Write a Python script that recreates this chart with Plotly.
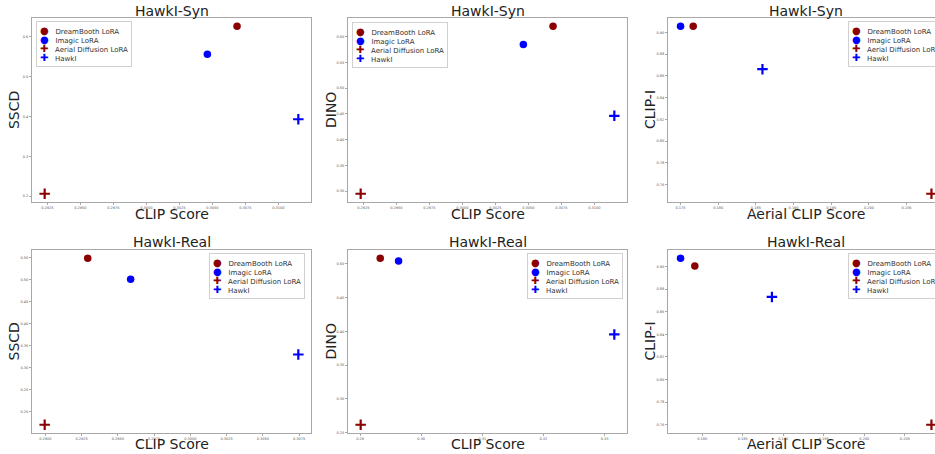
import plotly.graph_objects as go

W, H = 935, 454

methods = ["DreamBooth LoRA", "Imagic LoRA", "Aerial Diffusion LoRA", "HawkI"]
colors = ["#8b0000", "#0000ff", "#8b0000", "#0000ff"]
symbols = ["circle", "circle", "cross-thin", "cross-thin"]
legend_glyphs = ["\u25cf", "\u25cf", "\u271a", "\u271a"]

# HawkI-Syn
syn_clip = [0.30687, 0.30462, 0.29230, 0.31151]
syn_sscd = [0.6265, 0.5565, 0.2060, 0.3930]
syn_dino = [0.6200, 0.5844, 0.2947, 0.4460]
syn_aerial_clip = [0.17668, 0.17500, 0.20830, 0.18587]
syn_clipi = [0.9055, 0.9055, 0.7517, 0.8661]

# HawkI-Real
real_clip_a = [0.29292, 0.29588, 0.28995, 0.30745]
real_sscd = [0.5490, 0.5014, 0.1703, 0.3300]
real_clip_b = [0.2933, 0.2963, 0.2901, 0.3316]
real_dino = [0.5084, 0.5044, 0.2618, 0.3956]
real_aerial_clip = [0.17909, 0.17733, 0.20828, 0.18860]
real_clipi = [0.9006, 0.9074, 0.7600, 0.8731]

# tick labels
xt_syn_clip = [0.2925, 0.2950, 0.2975, 0.3000, 0.3025, 0.3050, 0.3075, 0.3100]
yt_syn_sscd = [0.2, 0.3, 0.4, 0.5, 0.6]
yt_syn_dino = [0.30, 0.35, 0.40, 0.45, 0.50, 0.55, 0.60]
xt_aerial_syn = [0.175, 0.180, 0.185, 0.190, 0.195, 0.200, 0.205]
yt_clipi = [0.76, 0.78, 0.80, 0.82, 0.84, 0.86, 0.88, 0.90]
xt_real_clip_a = [0.2900, 0.2925, 0.2950, 0.2975, 0.3000, 0.3025, 0.3050, 0.3075]
yt_real_sscd = [0.20, 0.25, 0.30, 0.35, 0.40, 0.45, 0.50, 0.55]
xt_real_clip_b = [0.29, 0.30, 0.31, 0.32, 0.33]
yt_real_dino = [0.25, 0.30, 0.35, 0.40, 0.45, 0.50]
xt_aerial_real = [0.180, 0.185, 0.190, 0.195, 0.200, 0.205]

panels = [
    (syn_clip, syn_sscd, xt_syn_clip, yt_syn_sscd, ".4f", ".1f", "HawkI-Syn", "CLIP Score", "SSCD"),
    (syn_clip, syn_dino, xt_syn_clip, yt_syn_dino, ".4f", ".2f", "HawkI-Syn", "CLIP Score", "DINO"),
    (syn_aerial_clip, syn_clipi, xt_aerial_syn, yt_clipi, ".3f", ".2f", "HawkI-Syn", "Aerial CLIP Score", "CLIP-I"),
    (real_clip_a, real_sscd, xt_real_clip_a, yt_real_sscd, ".4f", ".2f", "HawkI-Real", "CLIP Score", "SSCD"),
    (real_clip_b, real_dino, xt_real_clip_b, yt_real_dino, ".2f", ".2f", "HawkI-Real", "CLIP Score", "DINO"),
    (real_aerial_clip, real_clipi, xt_aerial_real, yt_clipi, ".3f", ".2f", "HawkI-Real", "Aerial CLIP Score", "CLIP-I"),
]

# pixel layout of plot areas
cols_px = [(32, 311), (348, 627), (668, 944)]
rows_px = [(18, 203), (251, 435)]
ylab_x = [14, 331, 650]
title_y = [11, 243]
xlab_y = [215, 446]
legend_pos = [
    (36, 21, "left"), (352, 22, "left"), (848, 21, "left"),
    (305, 254, "right"), (623, 254, "right"), (848, 254, "left"),
]

FONT = "DejaVu Sans"
frame = "#a8a8a8"
NB = "\u00a0"
legend_text = "<br>".join(
    f"<span style='color:{c};font-size:10px'>{g}</span>{NB*3}{m}"
    for g, c, m in zip(legend_glyphs, colors, methods)
)

fig = go.Figure()
layout = {}
annotations = []

for k, (xs, ys, xt, yt, fx, fy, title, xl, yl) in enumerate(panels):
    r, c = divmod(k, 3)
    n = k + 1
    xa = "x" if n == 1 else f"x{n}"
    ya = "y" if n == 1 else f"y{n}"
    for i, m in enumerate(methods):
        is_circle = symbols[i] == "circle"
        fig.add_trace(go.Scatter(
            x=[xs[i]], y=[ys[i]], mode="markers", name=m, showlegend=False,
            xaxis=xa, yaxis=ya,
            marker=dict(color=colors[i], symbol=symbols[i],
                        size=7.5,
                        line=dict(color=colors[i], width=0 if is_circle else 2.2)),
        ))
    x0p, x1p = cols_px[c]
    y0p, y1p = rows_px[r]
    xmn, xmx = min(xs), max(xs)
    ymn, ymx = min(ys), max(ys)
    xlo = xmn - 0.05 * (xmx - xmn)
    xhi = xmx + 0.05 * (xmx - xmn)
    ylo = ymn - 0.05 * (ymx - ymn)
    yhi = ymx + 0.05 * (ymx - ymn)
    x1_vis = min(x1p, W)
    if x1p > W:
        xhi = xlo + (xhi - xlo) * (x1_vis - x0p) / (x1p - x0p)
    axis_common = dict(showgrid=False, zeroline=False, showline=True, linecolor=frame,
                       linewidth=1, ticks="outside", ticklen=2, tickcolor=frame,
                       tickfont=dict(size=3.5, color="#555", family=FONT))
    layout["xaxis" if n == 1 else f"xaxis{n}"] = dict(
        domain=[x0p / W, x1_vis / W], anchor=ya, range=[xlo, xhi],
        tickvals=xt, ticktext=[format(v, fx) for v in xt], mirror=True, **axis_common)
    layout["yaxis" if n == 1 else f"yaxis{n}"] = dict(
        domain=[1 - y1p / H, 1 - y0p / H], anchor=xa, range=[ylo, yhi],
        tickvals=yt, ticktext=[format(v, fy) for v in yt], mirror=(c != 2), **axis_common)

    # legend box
    lx, ly, anc = legend_pos[k]
    annotations.append(dict(
        text=legend_text, x=lx / W, y=1 - ly / H, xref="paper", yref="paper",
        xanchor=anc, yanchor="top", align="left", showarrow=False,
        font=dict(size=7, family=FONT, color="#333"),
        bgcolor="rgba(255,255,255,0.85)", bordercolor="#d0d0d0", borderwidth=1, borderpad=3,
    ))

    cx = (x0p + x1p) / 2
    annotations.append(dict(text=title, x=cx / W, y=1 - title_y[r] / H, xref="paper", yref="paper",
                            showarrow=False, font=dict(size=14, family=FONT, color="#222"),
                            xanchor="center", yanchor="middle"))
    annotations.append(dict(text=xl, x=cx / W, y=1 - xlab_y[r] / H, xref="paper", yref="paper",
                            showarrow=False, font=dict(size=14, family=FONT, color="#222"),
                            xanchor="center", yanchor="middle"))
    cy = (y0p + y1p) / 2
    annotations.append(dict(text=yl, x=ylab_x[c] / W, y=1 - cy / H, xref="paper", yref="paper",
                            showarrow=False, textangle=-90, font=dict(size=14, family=FONT, color="#222"),
                            xanchor="center", yanchor="middle"))

fig.update_layout(
    width=W, height=H, margin=dict(l=0, r=0, t=0, b=0),
    paper_bgcolor="white", plot_bgcolor="white", showlegend=False,
    annotations=annotations, **layout,
)

fig.write_html("out.html", config={"displayModeBar": False},
               post_script="document.body.style.margin='0';document.body.style.overflow='hidden';")
